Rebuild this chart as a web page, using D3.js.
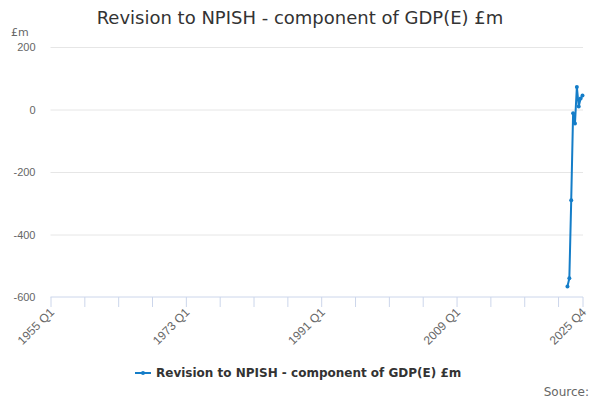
<!DOCTYPE html>
<html>
<head>
<meta charset="utf-8">
<script src="https://cdn.jsdelivr.net/npm/d3@7"></script>
<style>
    body { margin: 0; background: #fff; }
    svg { font-family: "DejaVu Sans", sans-serif; }
    .grid-line { stroke: #e6e6e6; }
</style>
</head>
<body>
<svg width="600" height="400"></svg>
<script>
// первый и последний квартал оси
const startYear = 1955;
const endYear = 2025;

// кварталы с данными и значения
const quarters = ['2023 Q4', '2024 Q1', '2024 Q2', '2024 Q3', '2024 Q4', '2025 Q1', '2025 Q2', '2025 Q3', '2025 Q4'];
const values = [-566, -540, -290, -12, -45, 72, 10, 35, 45];

const yTicks = [-600, -400, -200, 0, 200];
const xLabels = ['1955 Q1', '1973 Q1', '1991 Q1', '2009 Q1', '2025 Q4'];

const title = 'Revision to NPISH - component of GDP(E) £m';
const color = '#147dc8';

// номер квартала от 1955 Q1
function qIndex(label) {
    const parts = label.split(' Q');
    return (Number(parts[0]) - startYear) * 4 + Number(parts[1]) - 1;
}

const lastIndex = qIndex(endYear + ' Q4');
const plotLeft = 50.5;
const plotRight = 582.5;
const plotTop = 47;
const plotBottom = 297;

const svg = d3.select('svg');

const scaleX = d3.scaleLinear().domain([0, lastIndex]).range([plotLeft, plotRight]);
const scaleY = d3.scaleLinear().domain([-600, 200]).range([plotBottom, plotTop]);

// заголовок
svg.append('text')
    .attr('x', 300)
    .attr('y', 24)
    .attr('text-anchor', 'middle')
    .style('font-size', '18px')
    .style('fill', '#333')
    .text(title);

svg.append('text')
    .attr('x', 11)
    .attr('y', 36)
    .style('font-size', '11px')
    .style('fill', '#666')
    .text('£m');

// горизонтальная сетка и подписи OY
const axisY = d3.axisLeft(scaleY)
    .tickValues(yTicks)
    .tickFormat(d => String(d))
    .tickSize(0)
    .tickPadding(15);
const gY = svg.append('g')
    .attr('class', 'y-axis')
    .attr('transform', `translate(${plotLeft}, 0)`)
    .call(axisY);
gY.select('.domain').remove();
gY.selectAll('text').style('font-size', '11px').style('fill', '#666').attr('font-family', null);
gY.selectAll('g.tick')
    .filter(d => d !== -600)
    .append('line')
    .classed('grid-line', true)
    .attr('x1', 0)
    .attr('x2', plotRight - plotLeft + 0.5);

// ось OX: засечки каждые 18 кварталов + последний квартал
const tickIdx = d3.range(0, lastIndex, 18).concat([lastIndex]);
const labelIdx = xLabels.map(qIndex);
const axisX = d3.axisBottom(scaleX)
    .tickValues(tickIdx)
    .tickSize(10)
    .tickSizeOuter(0)
    .tickFormat(d => {
        const i = labelIdx.indexOf(d);
        return i >= 0 ? xLabels[i] : '';
    });
const gX = svg.append('g')
    .attr('class', 'x-axis')
    .attr('transform', `translate(0, ${plotBottom})`)
    .call(axisX);
gX.select('.domain').attr('stroke', '#ccd6eb').attr('d', `M${plotLeft},0H${plotRight + 0.5}`);
gX.selectAll('line').attr('stroke', '#ccd6eb');
gX.selectAll('text')
    .attr('font-family', null)
    .style('font-size', '12px')
    .style('fill', '#666')
    .style('text-anchor', 'end')
    .attr('x', 0)
    .attr('y', 0)
    .attr('dy', '0.35em')
    .attr('transform', 'translate(1, 13) rotate(-45)');

// линия ряда
const points = quarters.map((q, i) => ({ x: qIndex(q), y: values[i] }));
const line = d3.line().x(d => scaleX(d.x)).y(d => scaleY(d.y));

svg.append('path')
    .datum(points)
    .attr('d', line)
    .attr('fill', 'none')
    .attr('stroke', color)
    .attr('stroke-width', 2);

svg.selectAll('.dot')
    .data(points)
    .enter()
    .append('circle')
    .attr('r', 2)
    .attr('cx', d => scaleX(d.x))
    .attr('cy', d => scaleY(d.y))
    .style('fill', color);

// легенда
const legend = svg.append('g').attr('transform', 'translate(135, 373)');
legend.append('line')
    .attr('x1', 0).attr('x2', 16)
    .attr('y1', 0).attr('y2', 0)
    .attr('stroke', color)
    .attr('stroke-width', 2);
legend.append('circle').attr('cx', 8).attr('cy', 0).attr('r', 2).style('fill', color);
legend.append('text')
    .attr('x', 21)
    .attr('y', 4)
    .style('font-size', '12px')
    .style('font-weight', 'bold')
    .style('fill', '#333')
    .text(title);

svg.append('text')
    .attr('x', 589)
    .attr('y', 396)
    .attr('text-anchor', 'end')
    .style('font-size', '12px')
    .style('fill', '#666')
    .text('Source:');
</script>
</body>
</html>
